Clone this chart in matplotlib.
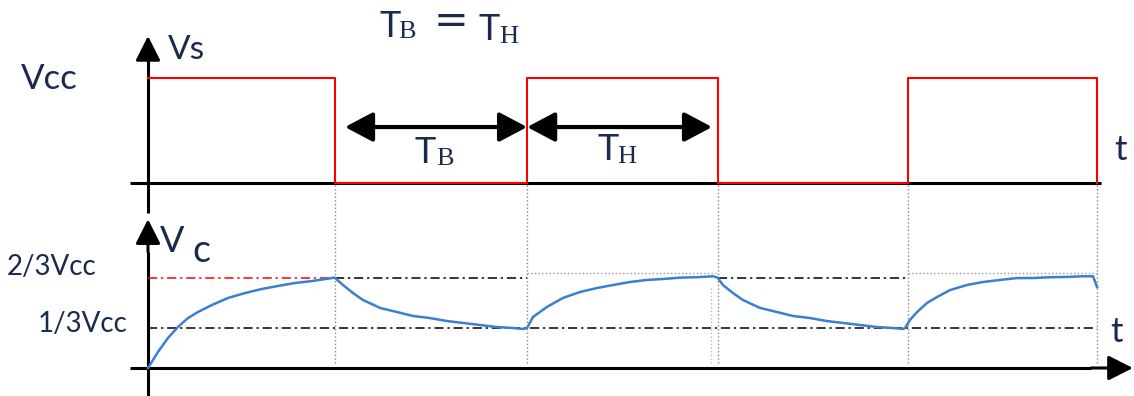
import numpy as np
import matplotlib
matplotlib.use("Agg")
import matplotlib.pyplot as plt

# switching instants (time units) and output level of the square wave
edges = [0, 0.98, 1.99, 2.99, 3.99, 4.98]
vs_levels = [1, 0, 1, 0, 1, 0]

# capacitor voltage (fraction of Vcc)
vc_t = [0, 0.052, 0.105, 0.157, 0.210, 0.262, 0.336, 0.420, 0.509, 0.598,
        0.682, 0.772, 0.861, 0.98,
        1.024, 1.076, 1.129, 1.218, 1.307, 1.391, 1.480, 1.570, 1.654,
        1.743, 1.832, 1.916, 1.969, 1.99,
        2.021, 2.094, 2.178, 2.268, 2.357, 2.441, 2.530, 2.619, 2.703,
        2.793, 2.882, 2.966, 2.99,
        3.018, 3.071, 3.123, 3.213, 3.302, 3.386, 3.475, 3.564, 3.648,
        3.738, 3.827, 3.911, 3.963, 3.974,
        4.0, 4.037, 4.089, 4.142, 4.210, 4.299, 4.383, 4.472, 4.562,
        4.646, 4.735, 4.824, 4.908, 4.961, 4.982]
vc_v = [0, 0.117, 0.220, 0.300, 0.366, 0.410, 0.462, 0.513, 0.549, 0.579,
        0.601, 0.623, 0.637, 0.662,
        0.608, 0.549, 0.498, 0.440, 0.410, 0.381, 0.366, 0.344, 0.330,
        0.315, 0.300, 0.293, 0.286, 0.293,
        0.374, 0.447, 0.513, 0.557, 0.586, 0.608, 0.630, 0.645, 0.652,
        0.662, 0.665, 0.672, 0.662,
        0.608, 0.549, 0.498, 0.440, 0.410, 0.381, 0.366, 0.344, 0.330,
        0.315, 0.300, 0.293, 0.286, 0.293,
        0.352, 0.410, 0.476, 0.520, 0.571, 0.608, 0.630, 0.645, 0.659,
        0.659, 0.665, 0.667, 0.672, 0.672, 0.593]

v_low = 0.29    # 1/3 Vcc
v_high = 0.662  # 2/3 Vcc
level_labels = ["1/3Vcc", "2/3Vcc"]

txt_col = "#1b2a4e"
sans = "Lato"
serif = "Liberation Serif"

fig = plt.figure(figsize=(11.34, 3.96), dpi=100)
top = fig.add_axes([0, 0, 1, 1])
bot = fig.add_axes([0, 0, 1, 1])
for ax in (top, bot):
    ax.set_axis_off()
    ax.set_xlim(-148 / 190.5, (1134 - 148) / 190.5)
bot.patch.set_alpha(0)
top.set_ylim(-(396 - 183) / 105, 183 / 105)
bot.set_ylim(-(396 - 368) / 136.5, 368 / 136.5)


def arrow(ax, start, tip, lw=2.2, hl=0.75, hw=0.38):
    ax.annotate("", xy=tip, xytext=start,
                arrowprops=dict(arrowstyle="-|>,head_length=%g,head_width=%g" % (hl, hw),
                                lw=lw, color="black", shrinkA=0, shrinkB=0,
                                mutation_scale=20))


# ---- top panel: Vs ----
top.plot([-0.095, 5.0], [0, 0], color="black", lw=2.2, solid_capstyle="butt")
arrow(top, (5.0, 0), (5.21, 0))
top.plot([0, 0], [-0.286, 1.2], color="black", lw=2.2, solid_capstyle="butt")
arrow(top, (0, 1.2), (0, 1.40))
top.step(edges, vs_levels, where="post", color="red", lw=1.5, zorder=5)

# T_B / T_H double arrows
yarr = 0.533
for a, b in [(1.034, edges[2]), (edges[2], 2.961)]:
    arrow(top, ((a + b) / 2, yarr), (b, yarr), lw=3, hl=0.85, hw=0.45)
    arrow(top, ((a + b) / 2, yarr), (a, yarr), lw=3, hl=0.85, hw=0.45)

top.text(0.105, 1.181, "Vs", fontsize=24, family=sans, color=txt_col)
top.text(-0.367, 0.895, "Vcc", fontsize=25, family=sans, color=txt_col, ha="right")
top.text(5.07, 0.219, "t", fontsize=25, family=sans, color=txt_col)

# T_B and T_H labels
top.text(1.40, 0.19, "T", fontsize=26, family=sans, color=txt_col)
top.text(1.515, 0.171, "B", fontsize=19, family=serif, color=txt_col)
top.text(2.357, 0.219, "T", fontsize=26, family=sans, color=txt_col)
top.text(2.462, 0.19, "H", fontsize=19, family=serif, color=txt_col)

# title T_B = T_H
top.text(1.215, 1.39, "T", fontsize=26, family=sans, color=txt_col)
top.text(1.315, 1.38, "B", fontsize=19, family=serif, color=txt_col)
top.text(1.50, 1.43, "=", fontsize=30, family="DejaVu Sans", color=txt_col)
top.text(1.735, 1.36, "T", fontsize=26, family=sans, color=txt_col)
top.text(1.845, 1.334, "H", fontsize=19, family=serif, color=txt_col)

# ---- bottom panel: Vc ----
bot.plot([-0.095, 4.95], [0, 0], color="black", lw=2.2, solid_capstyle="butt")
arrow(bot, (4.95, 0), (5.17, 0))
bot.plot([0, 0], [-0.21, 0.85], color="black", lw=2.2, solid_capstyle="butt")
arrow(bot, (0, 0.85), (0, 1.09))

# guide lines
dashdot = (0, (6, 2.5, 1.5, 2.5))
bot.plot([0, edges[1]], [v_high, v_high], color="red", lw=1.1, ls=dashdot)
for a, b in [(edges[1], edges[2]), (edges[3], edges[4])]:
    bot.plot([a, b], [v_high, v_high], color="black", lw=1.1, ls=dashdot)
for a, b in [(edges[2], edges[3]), (edges[4], edges[5])]:
    bot.plot([a, b], [v_high + 0.035, v_high + 0.035], color="#999999", lw=1, ls=":")
bot.plot([0, edges[5]], [v_low, v_low], color="black", lw=1.1, ls=dashdot)
bot.vlines(edges[1:], 0.04, 1.35, color="#888888", lw=1, ls=":")
bot.vlines([2.955], 0.04, 0.6, color="#bbbbbb", lw=1, ls=":")

bot.plot(vc_t, vc_v, color="#3a7fd0", lw=1.8, zorder=5)

bot.text(0.063, 0.85, "V", fontsize=26, family=sans, color=txt_col)
bot.text(0.231, 0.777, "c", fontsize=27, family=sans, color=txt_col)
bot.text(-0.74, 0.681, level_labels[1], fontsize=20, family=sans, color=txt_col)
bot.text(-0.577, 0.264, level_labels[0], fontsize=20, family=sans, color=txt_col)
bot.text(5.05, 0.19, "t", fontsize=25, family=sans, color=txt_col)

fig.savefig("out.png", dpi=100)
